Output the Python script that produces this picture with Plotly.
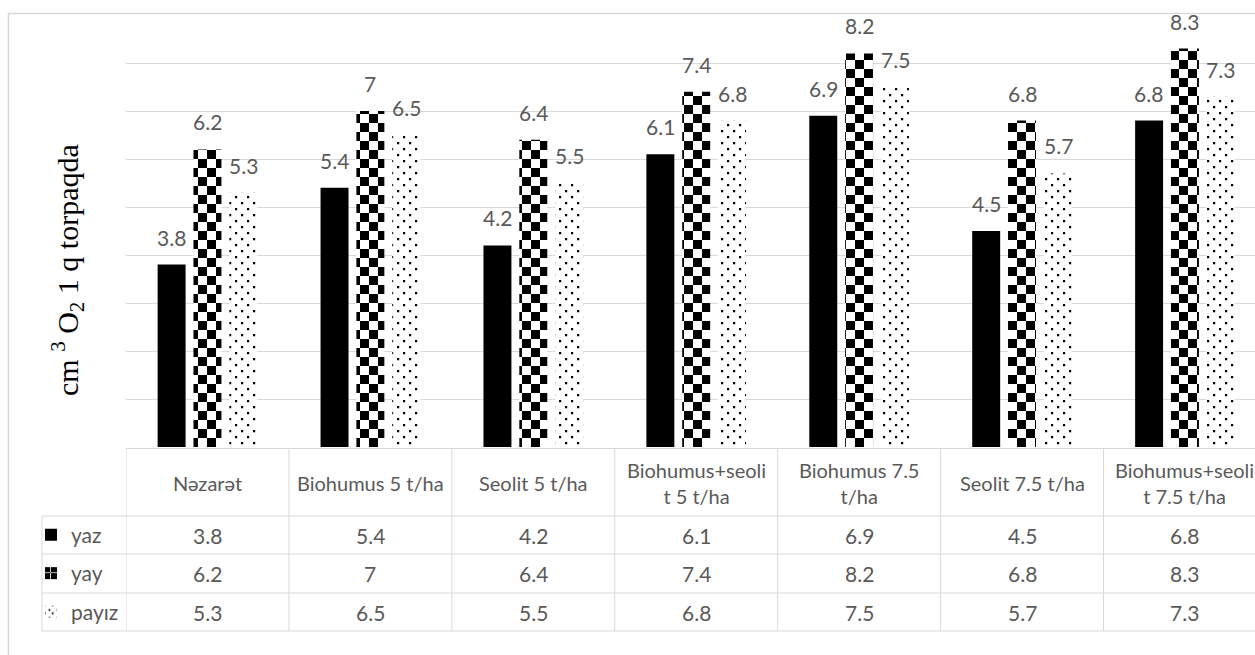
import plotly.graph_objects as go

# ---------------- data ----------------
categories = ["Nəzarət", "Biohumus 5 t/ha", "Seolit 5 t/ha", "Biohumus+seolit 5 t/ha",
              "Biohumus 7.5 t/ha", "Seolit 7.5 t/ha", "Biohumus+seolit 7.5 t/ha"]
header_labels = ["Nəzarət", "Biohumus 5 t/ha", "Seolit 5 t/ha", "Biohumus+seoli<br>t 5 t/ha",
                 "Biohumus 7.5<br>t/ha", "Seolit 7.5 t/ha", "Biohumus+seoli<br>t 7.5 t/ha"]
series_names = ["yaz", "yay", "payız"]
yaz = [3.8, 5.4, 4.2, 6.1, 6.9, 4.5, 6.8]
yay = [6.2, 7, 6.4, 7.4, 8.2, 6.8, 8.3]
payiz = [5.3, 6.5, 5.5, 6.8, 7.5, 5.7, 7.3]
y_title = "cm <sup>3</sup> O<sub>2</sub> 1 q torpaqda"

# ---------------- geometry helpers ----------------
W, H = 1255, 655
ML, MR, MT, MB = 126, 0, 15, 208
PW, PH = W - ML - MR, H - MT - MB


def px(x):
    return (x - ML) / PW


def py(y):
    return (H - MB - y) / PH


GRID = "#d9d9d9"
TXT = "#595959"
FONT = "Lato"
FS = 21
FS_HEAD = 20

# custom pattern tiles: large checker board (yay), staggered fine dots (payız)
checker = dict(path="M0,0H9V9H0Z M9,9H18V18H9Z", fgcolor="black", bgcolor="white",
               fgopacity=1, size=18, solidity=1)
dots = dict(path="M1,1H3.2V3.2H1Z M7,7H9.2V9.2H7Z", fgcolor="black", bgcolor="white",
            fgopacity=1, size=12, solidity=1)

styles = [
    dict(color="black"),
    dict(color="white", pattern=checker),
    dict(color="white", pattern=dots),
]
series = [yaz, yay, payiz]

fig = go.Figure()
legend_ids = ["legend", "legend2", "legend3"]
for name, vals, st, lg in zip(series_names, series, styles, legend_ids):
    fig.add_trace(go.Bar(x=categories, y=vals, name=name, marker=dict(line=dict(width=0), **st),
                         legend=lg, showlegend=True, hoverinfo="skip"))

annotations = []
offsets = [-36, 0, 36]
for vals, off in zip(series, offsets):
    for c, v in zip(categories, vals):
        annotations.append(dict(x=c, y=v, xref="x", yref="y", text=f"{v:g}", showarrow=False,
                                yanchor="bottom", xanchor="center", xshift=off, yshift=13,
                                font=dict(family=FONT, size=FS, color=TXT)))

# table header labels
for c, lab in zip(categories, header_labels):
    annotations.append(dict(x=c, y=py(482.5), xref="x", yref="paper", text=lab, showarrow=False,
                            xanchor="center", yanchor="middle",
                            font=dict(family=FONT, size=FS_HEAD, color=TXT)))
row_centers = [535, 573.5, 612]
for vals, rc in zip(series, row_centers):
    for c, v in zip(categories, vals):
        annotations.append(dict(x=c, y=py(rc), xref="x", yref="paper", text=f"{v:g}", showarrow=False,
                                xanchor="center", yanchor="middle",
                                font=dict(family=FONT, size=FS, color=TXT)))

annotations.append(dict(x=px(67), y=py(270), xref="paper", yref="paper", text=y_title, showarrow=False,
                        textangle=-90, xanchor="center", yanchor="middle",
                        font=dict(family="Liberation Serif", size=30, color="black")))

shapes = []
line = dict(color=GRID, width=1)
# outer chart border
shapes.append(dict(type="rect", xref="paper", yref="paper", x0=px(8.5), x1=px(1400), y0=py(13.5), y1=py(760),
                   line=dict(color=GRID, width=1.5), layer="below"))
# table lines
shapes.append(dict(type="line", xref="paper", yref="paper", x0=px(126), x1=1.01, y0=py(448.5), y1=py(448.5), line=line))
for yy in [516, 554, 593, 631]:
    shapes.append(dict(type="line", xref="paper", yref="paper", x0=px(42), x1=1.01, y0=py(yy), y1=py(yy), line=line))
shapes.append(dict(type="line", xref="paper", yref="paper", x0=px(42), x1=px(42), y0=py(516), y1=py(631), line=line))
for k in range(len(categories) + 1):
    shapes.append(dict(type="line", xref="x", yref="paper", x0=k - 0.5, x1=k - 0.5, y0=py(448.5), y1=py(631), line=line))

legend_common = dict(bgcolor="rgba(0,0,0,0)", borderwidth=0, font=dict(family=FONT, size=FS, color=TXT),
                     xanchor="left", yanchor="middle", itemclick=False, itemdoubleclick=False)
layout_legends = {}
for lg, rc in zip(legend_ids, row_centers):
    layout_legends[lg] = dict(x=px(31), y=py(rc), **legend_common)

fig.update_layout(
    width=W, height=H,
    margin=dict(l=ML, r=MR, t=MT, b=MB, pad=0),
    paper_bgcolor="white", plot_bgcolor="white",
    barmode="group", bargap=0.34, bargroupgap=0.22,
    xaxis=dict(type="category", range=[-0.5, 6.43], showticklabels=False, showgrid=False,
               zeroline=False, showline=False, ticks=""),
    yaxis=dict(range=[0, 9], dtick=1, showticklabels=False, showgrid=True, gridcolor=GRID, gridwidth=1,
               zeroline=False, showline=False, ticks=""),
    annotations=annotations,
    shapes=shapes,
    showlegend=True,
    **layout_legends,
)

fig.write_html("out.html")
